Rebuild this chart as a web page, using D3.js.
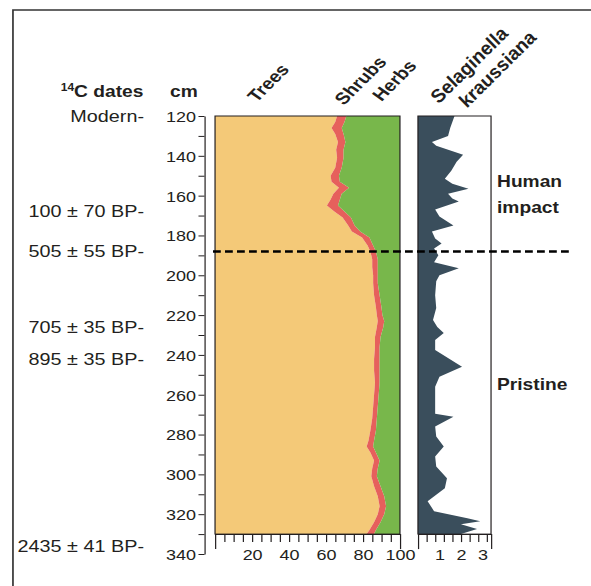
<!DOCTYPE html>
<html>
<head>
<meta charset="utf-8">
<script src="https://cdn.jsdelivr.net/npm/d3@7"></script>
<style>
  body { margin: 0; background: #fff; }
  svg text { font-family: "Liberation Sans", Arial, sans-serif; fill: #231f20; }
</style>
</head>
<body>
<svg id="chart" width="591" height="586"></svg>
<script>
// Dados
var depths = [120,123,126,129,133,137,141,146,150,153,156,159,162,165,168,171,175,178,181,185,188,192,196,200,204,210,216,220,223,226,231,236,242,248,254,260,266,272,278,283,286,289,293,297,301,306,311,316,320,324,328,330];
var trees  = [66,65,63,65,66.5,65.5,66,65,62.5,63,67,64,62.5,60.5,64.5,69,72,74,79.5,82.5,84,85,85,85.5,85.5,86,87,87.5,88,87.5,86.5,86.5,86,86,86.5,86,85.5,85,84,83,82,84,86,85,84.5,86,88,89,88,86,83.5,82];
var shrubs = [5,5,5.5,4.5,4,4,3.5,3.5,4.5,4.5,5.5,4.5,5,6,5.5,4.5,3.5,4.5,4,3,3,3,3,2.5,2.5,3,3,3,3.5,3.5,3,2.5,3,3,2.5,2.5,2.5,2.5,3,3,3.5,3,3,3,3,3.5,3.5,3.5,3.5,3.5,3.5,4];
var herbs  = [29,30,31.5,30.5,29.5,30.5,30.5,31.5,33,32.5,27.5,31.5,32.5,33.5,30,26.5,24.5,21.5,16.5,14.5,13,12,12,12,12,11,10,9.5,8.5,9,10.5,11,11,11,11,11.5,12,12.5,13,14,14.5,13,11,12,12.5,10.5,8.5,7.5,8.5,10.5,13,14];

var selDepths = [120,126,130,133,135,139.5,143,147.5,151.5,154,156.5,159,161.5,163,167,170.5,175,178,181.5,184,186.5,190,193.5,196.5,200,203,210,216.5,222.5,226,229,232.5,237.5,246,251,256,261,269.5,271,276,281,286,291,296,302,307,313.5,318.5,322,323.5,325,327.5,330];
var selValues = [1.7,1.5,1.4,0.65,0.85,2.1,1.8,1.55,1.25,1.6,2.35,1.4,1.6,1.9,0.8,1.0,1.65,0.65,0.8,1.1,0.75,0.95,0.75,1.9,1.0,0.85,0.8,0.85,0.7,0.9,1.2,0.8,0.8,2.05,1.0,0.8,0.8,0.8,1.65,0.8,0.85,1.2,0.8,0.85,1.35,1.25,0.45,0.75,2.3,2.9,2.0,2.75,2.0];

var groupNames = ["Trees", "Shrubs", "Herbs"];
var depthTicks = d3.range(120, 341, 10);
var pctTicks = d3.range(0, 101, 5);
var selTicks = [0.4, 0.8, 1.2, 1.6, 2.0, 2.4, 2.8, 3.2];
var selLabels = [1, 2, 3];

var dates = [
  {label: "Modern-", depth: 120},
  {label: "100 \u00b1 70 BP-", depth: 168},
  {label: "505 \u00b1 55 BP-", depth: 188},
  {label: "705 \u00b1 35 BP-", depth: 226},
  {label: "895 \u00b1 35 BP-", depth: 242},
  {label: "2435 \u00b1 41 BP-", depth: 336}
];
var boundaryDepth = 188;

// Cores
var colors = { Trees: "#f4c978", Shrubs: "#e6605c", Herbs: "#78b74b", sel: "#3a4e5c", ink: "#231f20" };

// A figura original está esticada na horizontal: desenhamos em unidades "design" e escalamos
var SX = 1.2;
var svg = d3.select("#chart");
var g = svg.append("g").attr("transform", "scale(" + SX + ",1)");

// Moldura (só topo e esquerda aparecem)
g.append("path")
  .attr("d", "M10.8,586 V10 H493")
  .attr("fill", "none").attr("stroke", "#333").attr("stroke-width", 1.4);

// Escalas
var y = d3.scaleLinear().domain([120, 340]).range([116, 554]);
var x = d3.scaleLinear().domain([0, 100]).range([179.2, 333.3]);
var xs = d3.scaleLinear().domain([0, 3.4]).range([348.3, 409.2]);
var panelTop = y(120), panelBottom = y(330);

// Empilhamento
var rows = depths.map(function(d, i) { return {depth: d, Trees: trees[i], Shrubs: shrubs[i], Herbs: herbs[i]}; });
var stack = d3.stack().keys(groupNames)(rows);
var area = d3.area()
  .y(function(d) { return y(d.data.depth); })
  .x0(function(d) { return x(d[0]); })
  .x1(function(d) { return x(d[1]); });
g.selectAll(".layer").data(stack).enter().append("path")
  .attr("class", "layer")
  .attr("d", area)
  .attr("fill", function(d) { return colors[d.key]; });
g.append("rect")
  .attr("x", x(0)).attr("y", panelTop)
  .attr("width", x(100) - x(0)).attr("height", panelBottom - panelTop)
  .attr("fill", "none").attr("stroke", colors.ink).attr("stroke-width", 1);

// Selaginella
var selRows = selDepths.map(function(d, i) { return {depth: d, v: selValues[i]}; });
var selArea = d3.area()
  .y(function(d) { return y(d.depth); })
  .x0(xs(0))
  .x1(function(d) { return xs(d.v); });
g.append("path").datum(selRows).attr("d", selArea).attr("fill", colors.sel);
g.append("rect")
  .attr("x", xs(0)).attr("y", panelTop)
  .attr("width", xs(3.4) - xs(0)).attr("height", panelBottom - panelTop)
  .attr("fill", "none").attr("stroke", colors.ink).attr("stroke-width", 1);

// Eixo de profundidade
var depthAxis = g.append("g")
  .attr("transform", "translate(170.4,0)")
  .call(d3.axisLeft(y).tickValues(depthTicks).tickSize(5).tickSizeOuter(0).tickPadding(2)
    .tickFormat(function(d) { return d % 20 === 0 ? d : ""; }));
depthAxis.selectAll("text").style("font-size", "15px").attr("fill", colors.ink).attr("dy", "0.36em");
depthAxis.selectAll("line, path").attr("stroke", colors.ink).attr("stroke-width", 1);

// Eixo x das porcentagens
var pctAxis = g.append("g")
  .attr("transform", "translate(0," + panelBottom + ")")
  .call(d3.axisBottom(x).tickValues(pctTicks).tickSize(8).tickSizeOuter(0).tickPadding(7)
    .tickFormat(function(d) { return (d > 0 && d % 20 === 0) ? d : ""; }));
pctAxis.selectAll(".tick line").attr("y2", function(d) { return (d === 0 || d === 100) ? 15 : 8; });
pctAxis.selectAll("text").style("font-size", "15px").attr("fill", colors.ink);
pctAxis.selectAll("line, path").attr("stroke", colors.ink);

// Eixo x da Selaginella
var selAxis = g.append("g")
  .attr("transform", "translate(0," + panelBottom + ")")
  .call(d3.axisBottom(xs).tickValues([0].concat(selTicks, [3.4])).tickSize(8).tickSizeOuter(0)
    .tickFormat(""));
selAxis.selectAll(".tick line").attr("y2", function(d) { return (d === 0 || d === 3.4) ? 15 : 8; });
selAxis.selectAll("line, path").attr("stroke", colors.ink);
var selLab = g.append("g")
  .attr("transform", "translate(0," + panelBottom + ")")
  .call(d3.axisBottom(xs).tickValues(selLabels).tickSize(0).tickPadding(15).tickFormat(d3.format("d")));
selLab.select(".domain").remove();
selLab.selectAll("text").style("font-size", "15px").attr("fill", colors.ink);

// Datas 14C
g.selectAll(".date").data(dates).enter().append("text")
  .attr("class", "date")
  .attr("x", 120).attr("y", function(d) { return y(d.depth); })
  .attr("dy", "0.36em")
  .attr("text-anchor", "end")
  .style("font-size", "16.5px")
  .text(function(d) { return d.label; });

// Cabeçalhos
var head = g.append("text").attr("x", 119.5).attr("y", 97).attr("text-anchor", "end")
  .style("font-size", "16px").style("font-weight", "bold");
head.append("tspan").attr("dy", "-6").style("font-size", "10px").text("14");
head.append("tspan").attr("dy", "6").text("C dates");
g.append("text").attr("x", 141.7).attr("y", 97)
  .style("font-size", "16px").style("font-weight", "bold").text("cm");

var headers = [
  {text: "Trees", x: 214, y: 103, italic: false, size: 16.5},
  {text: "Shrubs", x: 286.5, y: 106, italic: false, size: 16.5},
  {text: "Herbs", x: 318, y: 102, italic: false, size: 16.5},
  {text: "Selaginella", x: 366, y: 104, italic: true, size: 17.5},
  {text: "kraussiana", x: 389.5, y: 108, italic: true, size: 17.5}
];
g.selectAll(".hdr").data(headers).enter().append("text")
  .attr("class", "hdr")
  .attr("transform", function(d) { return "translate(" + d.x + "," + d.y + ") rotate(-50)"; })
  .style("font-size", function(d) { return d.size + "px"; }).style("font-weight", "bold")
  .style("font-style", function(d) { return d.italic ? "italic" : "normal"; })
  .text(function(d) { return d.text; });

// Linha tracejada do limite
g.append("line")
  .attr("x1", 177.5).attr("x2", 477.5)
  .attr("y1", y(boundaryDepth)).attr("y2", y(boundaryDepth))
  .attr("stroke", "#000").attr("stroke-width", 2.5).attr("stroke-dasharray", "6.5,3.5");

// Zonas
var zone = g.append("g").style("font-size", "16px").style("font-weight", "bold");
zone.append("text").attr("x", 414.2).attr("y", 187).text("Human");
zone.append("text").attr("x", 414.2).attr("y", 213).text("impact");
zone.append("text").attr("x", 414.2).attr("y", 390).text("Pristine");
</script>
</body>
</html>
